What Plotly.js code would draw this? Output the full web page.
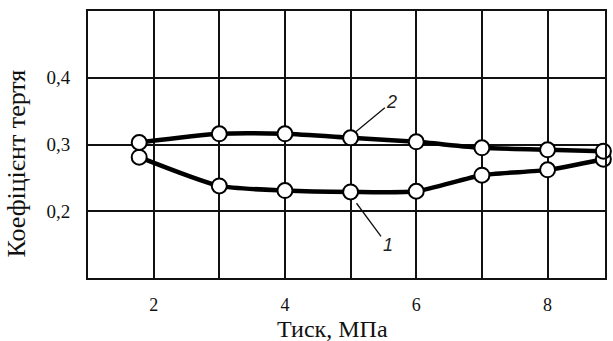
<!DOCTYPE html>
<html>
<head>
<meta charset="utf-8">
<script src="https://cdn.plot.ly/plotly-3.0.1.min.js"></script>
<style>html,body{margin:0;padding:0;background:#fff;}#chart{width:613px;height:341px;}</style>
</head>
<body>
<div id="chart"></div>
<script>
// Pressure, MPa
const pressure = [1.78, 3, 4, 5, 6, 7, 8, 8.85];
// Curve 1 (lower) friction coefficient
const curve1 = [0.281, 0.238, 0.231, 0.229, 0.230, 0.254, 0.262, 0.278];
// Curve 2 (upper) friction coefficient
const curve2 = [0.303, 0.316, 0.316, 0.310, 0.304, 0.295, 0.292, 0.290];
const xTickVals = [2, 3, 4, 5, 6, 7, 8];
const xTickText = ['2', '', '4', '', '6', '', '8'];
const yTickVals = [0.2, 0.3, 0.4];
const yTickText = ['0,2', '0,3', '0,4'];
const xTitle = 'Тиск, МПа';
const yTitle = 'Коефіцієнт тертя';

const lineStyle = {color: '#000', width: 4.5, shape: 'spline', smoothing: 0.6};
const markerStyle = {size: 15, color: '#fff', line: {color: '#000', width: 2}};

const traces = [
  {x: pressure, y: curve1, mode: 'lines+markers', line: lineStyle, marker: markerStyle, name: '1', cliponaxis: false},
  {x: pressure, y: curve2, mode: 'lines+markers', line: lineStyle, marker: markerStyle, name: '2', cliponaxis: false}
];

const serif = 'Liberation Serif, Times New Roman, serif';
const sans = 'Liberation Sans, Arial, sans-serif';

const layout = {
  width: 613, height: 341,
  margin: {l: 88, r: 8, t: 11, b: 63},
  paper_bgcolor: '#fff', plot_bgcolor: '#fff',
  showlegend: false,
  font: {family: serif, color: '#111'},
  xaxis: {
    range: [1, 8.875], tickvals: xTickVals, ticktext: xTickText,
    showgrid: true, gridcolor: '#111', gridwidth: 2,
    showline: true, linecolor: '#111', linewidth: 2, mirror: true,
    ticks: '', zeroline: false, ticklabelstandoff: 9,
    tickfont: {size: 18, family: serif, color: '#111'}
  },
  yaxis: {
    range: [0.1, 0.5], tickvals: yTickVals, ticktext: yTickText,
    showgrid: true, gridcolor: '#111', gridwidth: 2,
    showline: true, linecolor: '#111', linewidth: 2, mirror: true,
    ticks: '', zeroline: false, ticklabelstandoff: 12,
    tickfont: {size: 19, family: serif, color: '#111'}
  },
  annotations: [
    {xref: 'paper', yref: 'paper', x: 0.473, y: -0.191, xanchor: 'center', yanchor: 'middle', showarrow: false,
     text: xTitle, font: {size: 24, family: serif, color: '#111'}},
    {xref: 'paper', yref: 'paper', x: -0.139, y: 0.429, xanchor: 'center', yanchor: 'middle', showarrow: false,
     textangle: -90, text: yTitle, font: {size: 26, family: serif, color: '#111'}},
    {x: 5.08, y: 0.319, xref: 'x', yref: 'y', text: '2', showarrow: true, arrowhead: 0, arrowwidth: 1.3, arrowcolor: '#111',
     ax: 36, ay: -30, font: {size: 18, family: sans, color: '#222', style: 'italic'}},
    {x: 5.09, y: 0.212, xref: 'x', yref: 'y', text: '1', showarrow: true, arrowhead: 0, arrowwidth: 1.3, arrowcolor: '#111',
     ax: 31, ay: 42, font: {size: 18, family: sans, color: '#222', style: 'italic'}}
  ]
};

Plotly.newPlot('chart', traces, layout, {displayModeBar: false, staticPlot: true});
</script>
</body>
</html>
